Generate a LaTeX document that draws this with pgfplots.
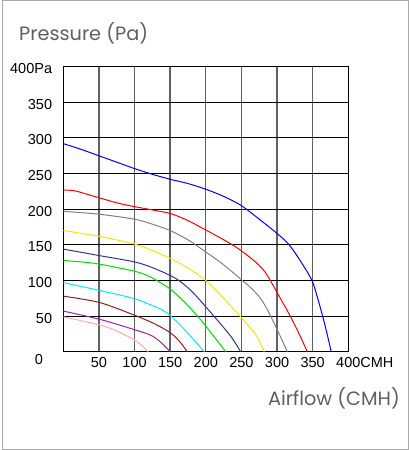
\documentclass[border=0pt]{standalone}
\usepackage{fontspec}
\setmainfont{Liberation Sans}
\newfontfamily\titlefont{Poppins}
\usepackage{pgfplots}
\pgfplotsset{compat=1.18}
\definecolor{cblue}{RGB}{0,0,255}
\definecolor{cred}{RGB}{255,0,0}
\definecolor{cgray}{RGB}{128,128,128}
\definecolor{cyellow}{RGB}{245,230,0}
\definecolor{cnavy}{RGB}{45,55,145}
\definecolor{cgreen}{RGB}{0,225,0}
\definecolor{ccyan}{RGB}{0,235,255}
\definecolor{cbrown}{RGB}{150,30,30}
\definecolor{cpurple}{RGB}{155,40,160}
\definecolor{cpink}{RGB}{255,170,180}
\definecolor{ctitle}{RGB}{95,95,95}
\definecolor{cframe}{RGB}{170,170,170}
\begin{document}
\begin{tikzpicture}
\useasboundingbox (-63.3bp,-98.3bp) rectangle (345.7bp,351.7bp);
\draw[cframe, line width=1bp] (-60.3bp,-97.3bp) rectangle (344.7bp,350.7bp);
\begin{axis}[
  at={(0,0)}, anchor=south west,
  scale only axis, width=285bp, height=285bp,
  xmin=0, xmax=400, ymin=0, ymax=400,
  xtick={50,100,...,400}, ytick={50,100,...,400},
  xticklabels={50,100,150,200,250,300,350,{400\rlap{CMH}}},
  yticklabels={50,100,150,200,250,300,350,{400Pa\hspace{-6.7bp}}},
  major tick length=0pt,
  grid=major,
  x grid style={line width=1.4bp, black!62},
  y grid style={line width=1bp, black},
  axis line style={line width=1bp, black},
  tick label style={font=\fontsize{14.5bp}{16bp}\selectfont, inner sep=0pt},
  xticklabel style={anchor=north, yshift=-5bp},
  yticklabel style={anchor=east, xshift=-11bp, yshift=-2bp},
  /pgf/number format/assume math mode=true,
  every axis plot/.append style={line width=1bp, smooth, no markers},
  clip=true,
]
\addplot[cblue] coordinates {(0,292) (25,284) (50,275) (75,266) (100,257) (125,249) (150,242) (175,236) (200,228) (225,218) (250,205) (275,186) (300,166) (317,150) (333,127) (349,100) (357,75) (364,50) (370,26) (376,0)};
\addplot[cred] coordinates {(0,227) (15,226) (30,222) (47,217) (75,209) (98,204) (125,199) (150,194) (173,185) (196,173) (220,160) (239,149) (252,140) (265,130) (275,121) (283,112) (290,101) (304,76) (318,51) (330,27) (342.5,0)};
\addplot[cgray] coordinates {(0,197) (50,193) (100,186) (125,179) (150,170) (175,157) (200,140) (225,122) (250,101) (263,90) (275,77) (283,65) (291,50) (302,27) (314.5,0)};
\addplot[cyellow] coordinates {(0,170) (50,162) (100,151) (125,142) (150,131) (165,123) (182,113) (200,100) (225,75) (248,50) (262,34) (272,21) (282,0)};
\addplot[cnavy] coordinates {(0,144) (50,135) (100,126) (125,118) (150,107) (165,98) (182,83) (200,63) (213,48) (225,34) (237,19) (249,0)};
\addplot[cgreen] coordinates {(0,128) (25,126) (50,123) (100,113) (120,106) (136,97) (150,88) (170,70) (190,48) (200,36) (214,18) (228,0)};
\addplot[ccyan] coordinates {(0,97) (51,86) (98,75) (122,66) (136,60) (150,51) (173,28) (188,11) (198,0)};
\addplot[cbrown] coordinates {(0,78) (51,69) (98,52) (122,42) (136,35) (148,28) (157,21) (166,11) (174,0)};
\addplot[cpurple] coordinates {(0,57) (51,45.5) (98,31.5) (122,23.5) (136,14) (150,0)};
\addplot[cpink] coordinates {(0,49) (51,37.5) (74,29.5) (98,17.5) (110,9) (119,0)};
\end{axis}
\node[font=\fontsize{14.5bp}{16bp}\selectfont, inner sep=0pt] at (-24.3bp,-8.3bp) {0};
\node[font=\titlefont\fontsize{19.3bp}{22bp}\selectfont, text=ctitle, anchor=base west, inner sep=0pt] at (-44.3bp,311bp) {Pressure (Pa)};
\node[font=\titlefont\fontsize{19.3bp}{22bp}\selectfont, text=ctitle, anchor=base east, inner sep=0pt] at (336.7bp,-53.3bp) {Airflow (CMH)};
\end{tikzpicture}
\end{document}
